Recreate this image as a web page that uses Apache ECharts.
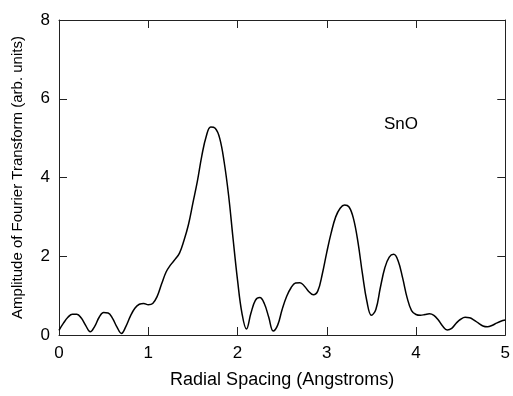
<!DOCTYPE html>
<html>
<head>
<meta charset="utf-8">
<script src="https://cdn.jsdelivr.net/npm/echarts@6/dist/echarts.min.js"></script>
<style>
  html, body { margin: 0; padding: 0; background: #fff; }
  #main { width: 513px; height: 396px; }
</style>
</head>
<body>
<div id="main"></div>
<script>
// radial spacing (Angstroms)
var radius = [
  0.00, 0.05, 0.10, 0.15, 0.20, 0.25, 0.30, 0.35, 0.40, 0.45,
  0.50, 0.55, 0.60, 0.65, 0.70, 0.75, 0.80, 0.85, 0.90, 0.95,
  1.00, 1.05, 1.10, 1.15, 1.20, 1.25, 1.30, 1.35, 1.40, 1.45,
  1.50, 1.55, 1.60, 1.65, 1.70, 1.75, 1.80, 1.85, 1.90, 1.95,
  2.00, 2.05, 2.10, 2.15, 2.20, 2.25, 2.30, 2.35, 2.40, 2.45,
  2.50, 2.55, 2.60, 2.65, 2.70, 2.75, 2.80, 2.85, 2.90, 2.95,
  3.00, 3.05, 3.10, 3.15, 3.20, 3.25, 3.30, 3.35, 3.40, 3.45,
  3.50, 3.55, 3.60, 3.65, 3.70, 3.75, 3.80, 3.85, 3.90, 3.95,
  4.00, 4.05, 4.10, 4.15, 4.20, 4.25, 4.30, 4.35, 4.40, 4.45,
  4.50, 4.55, 4.60, 4.65, 4.70, 4.75, 4.80, 4.85, 4.90, 4.95,
  5.00
];
// amplitude of Fourier transform (arb. units)
var amplitude = [
  0.12, 0.30, 0.45, 0.53, 0.53, 0.43, 0.24, 0.08, 0.22, 0.45,
  0.57, 0.56, 0.42, 0.20, 0.04, 0.22, 0.48, 0.68, 0.78, 0.80,
  0.77, 0.80, 0.98, 1.30, 1.60, 1.78, 1.92, 2.08, 2.40, 2.80,
  3.35, 3.90, 4.55, 5.05, 5.28, 5.25, 5.00, 4.40, 3.55, 2.45,
  1.40, 0.55, 0.15, 0.55, 0.88, 0.95, 0.80, 0.45, 0.10, 0.25,
  0.65, 0.98, 1.20, 1.32, 1.33, 1.24, 1.10, 1.02, 1.12, 1.55,
  2.10, 2.60, 3.00, 3.22, 3.30, 3.25, 2.95, 2.35, 1.55, 0.85,
  0.50, 0.65, 1.20, 1.70, 1.98, 2.05, 1.88, 1.45, 0.95, 0.62,
  0.52, 0.50, 0.52, 0.54, 0.50, 0.38, 0.22, 0.13, 0.17, 0.30,
  0.40, 0.45, 0.44, 0.38, 0.30, 0.23, 0.21, 0.24, 0.30, 0.35,
  0.38
];
var xTicks = [0, 5, 1];   // min, max, interval
var yTicks = [0, 8, 2];

var chart = echarts.init(document.getElementById('main'));

var font = 'Liberation Sans, Arial, sans-serif';
var axisColor = '#222';

function xAxisOpt(pos, showLabel) {
  return {
    type: 'value', position: pos,
    min: xTicks[0], max: xTicks[1], interval: xTicks[2],
    axisLine: { show: true, onZero: false, lineStyle: { color: axisColor, width: 1 } },
    axisTick: { show: true, inside: true, length: 8, lineStyle: { color: axisColor } },
    axisLabel: { show: showLabel, color: '#000', fontSize: 17, fontFamily: font, margin: 10 },
    splitLine: { show: false }
  };
}
function yAxisOpt(pos, showLabel) {
  return {
    type: 'value', position: pos,
    min: yTicks[0], max: yTicks[1], interval: yTicks[2],
    axisLine: { show: true, onZero: false, lineStyle: { color: axisColor, width: 1 } },
    axisTick: { show: true, inside: true, length: 8, lineStyle: { color: axisColor } },
    axisLabel: { show: showLabel, color: '#000', fontSize: 17, fontFamily: font, margin: 9 },
    splitLine: { show: false }
  };
}

var bottomX = xAxisOpt('bottom', true);
bottomX.name = 'Radial Spacing (Angstroms)';
bottomX.nameLocation = 'middle';
bottomX.nameGap = 36;
bottomX.nameTextStyle = { fontSize: 18, fontFamily: font, color: '#000' };

var leftY = yAxisOpt('left', true);
leftY.name = 'Amplitude of Fourier Transform (arb. units)';
leftY.nameLocation = 'middle';
leftY.nameGap = 34;
leftY.nameTextStyle = { fontSize: 15, fontFamily: font, color: '#000' };

chart.setOption({
  animation: false,
  backgroundColor: '#fff',
  grid: { left: 59, right: 7, top: 20, bottom: 61, containLabel: false },
  xAxis: [bottomX, xAxisOpt('top', false)],
  yAxis: [leftY, yAxisOpt('right', false)],
  graphic: [{
    type: 'text', left: 384, top: 116,
    style: { text: 'SnO', fontSize: 17, fontFamily: font, fill: '#000' }
  }],
  series: [{
    type: 'line',
    data: radius.map(function (r, i) { return [r, amplitude[i]]; }),
    showSymbol: false,
    smooth: 0.4,
    lineStyle: { color: '#000', width: 1.5 }
  }]
});
</script>
</body>
</html>
